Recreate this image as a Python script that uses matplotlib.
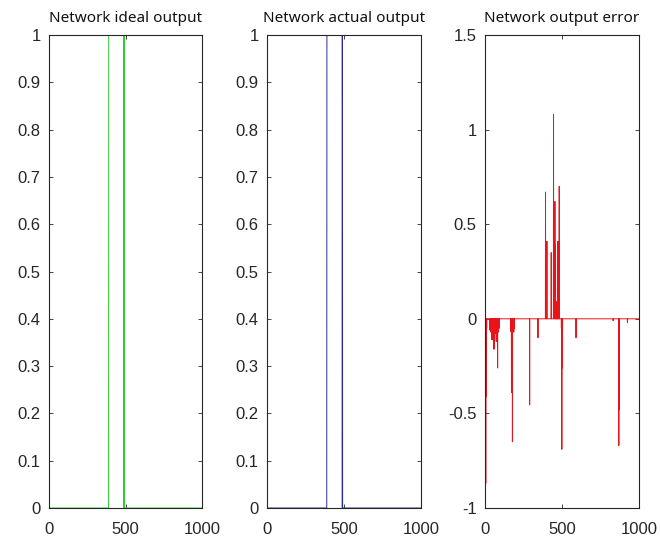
import numpy as np
import matplotlib
matplotlib.use("Agg")
import matplotlib.pyplot as plt

plt.rcParams['font.family'] = ['Liberation Sans', 'DejaVu Sans']

# ---- data ----
n_samples = 1000
# ideal output: transition points (sample index, value)
ideal_x = [0, 389, 390, 488, 489, 490, 491, 999]
ideal_y = [0, 0, 1, 1, 0, 1, 0, 0]
# actual output: transition points
actual_x = [0, 388, 389, 488, 489, 490, 491, 999]
actual_y = [0, 0, 1, 1, 0, 1, 0, 0]
# error spikes (sample index, value); all other samples are 0
err_idx = [5, 8, 11, 32, 36, 40, 43, 46, 49, 52, 55, 58, 61, 64, 67, 70, 73, 75, 78, 82, 85, 88, 92,
           168, 170, 172, 175, 178, 181, 184, 187, 190, 290, 344,
           393, 402, 430, 445, 454, 456, 458, 461, 464, 467, 470, 473, 476, 479, 482,
           496, 499, 501, 503, 591, 832, 869, 872, 925]
err_val = [-0.87, -0.41, -0.05, -0.06, -0.07, -0.06, -0.11, -0.07, -0.11, -0.06, -0.16, -0.07, -0.16, -0.08,
           -0.07, -0.06, -0.12, -0.06, -0.07, -0.26, -0.06, -0.07, -0.05,
           -0.06, -0.07, -0.39, -0.06, -0.65, -0.07, -0.06, -0.07, -0.05, -0.455, -0.10,
           0.67, 0.41, 0.35, 1.08, 0.62, 0.08, 0.39, 0.08, 0.09, 0.07, 0.08, 0.41, 0.08, 0.07, 0.70,
           -0.05, -0.69, -0.26, -0.10, -0.10, -0.01, -0.67, -0.48, -0.02]

titles = ["Network ideal output", "Network actual output", "Network output error"]
xticks = [0, 500, 1000]
yticks_out = [0, 0.1, 0.2, 0.3, 0.4, 0.5, 0.6, 0.7, 0.8, 0.9, 1]
ytick_out_labels = ["0", "0.1", "0.2", "0.3", "0.4", "0.5", "0.6", "0.7", "0.8", "0.9", "1"]
yticks_err = [-1, -0.5, 0, 0.5, 1, 1.5]
ytick_err_labels = ["-1", "-0.5", "0", "0.5", "1", "1.5"]

# build the error series
err = np.zeros(n_samples)
err[err_idx] = err_val

fig = plt.figure(figsize=(6.6, 5.41), dpi=100)
W, H = 660, 541
def pos(l, r, t, b):
    return [l / W, (H - b) / H, (r - l) / W, (b - t) / H]

ax1 = fig.add_axes(pos(49, 202, 35, 508))
ax2 = fig.add_axes(pos(267, 421, 35, 508))
ax3 = fig.add_axes(pos(485, 639, 35, 508))

ax1.plot(ideal_x, ideal_y, color='#33cc33', lw=0.7)
ax2.plot(actual_x, actual_y, color='#2a2a9a', lw=0.7)
ax3.plot(np.arange(n_samples), err, color='#e8141a', lw=0.7)

for ax, t in zip([ax1, ax2, ax3], titles):
    ax.set_xlim(0, 1000)
    ax.set_xticks(xticks)
    ax.set_xticklabels([str(v) for v in xticks])
    ax.tick_params(direction='in', length=3, width=0.6, top=True, right=True,
                   labelsize=12, colors='#262626', pad=6)
    ax.tick_params(axis='x', pad=10)
    for s in ax.spines.values():
        s.set_color('#262626')
        s.set_linewidth(0.8)
    ax.set_title(t, fontsize=11, family=['Noto Sans', 'DejaVu Sans'], pad=9, color='#111111')

for ax in [ax1, ax2]:
    ax.set_ylim(0, 1)
    ax.set_yticks(yticks_out)
    ax.set_yticklabels(ytick_out_labels)
ax3.set_ylim(-1, 1.5)
ax3.set_yticks(yticks_err)
ax3.set_yticklabels(ytick_err_labels)

fig.savefig("out.png", dpi=100)
